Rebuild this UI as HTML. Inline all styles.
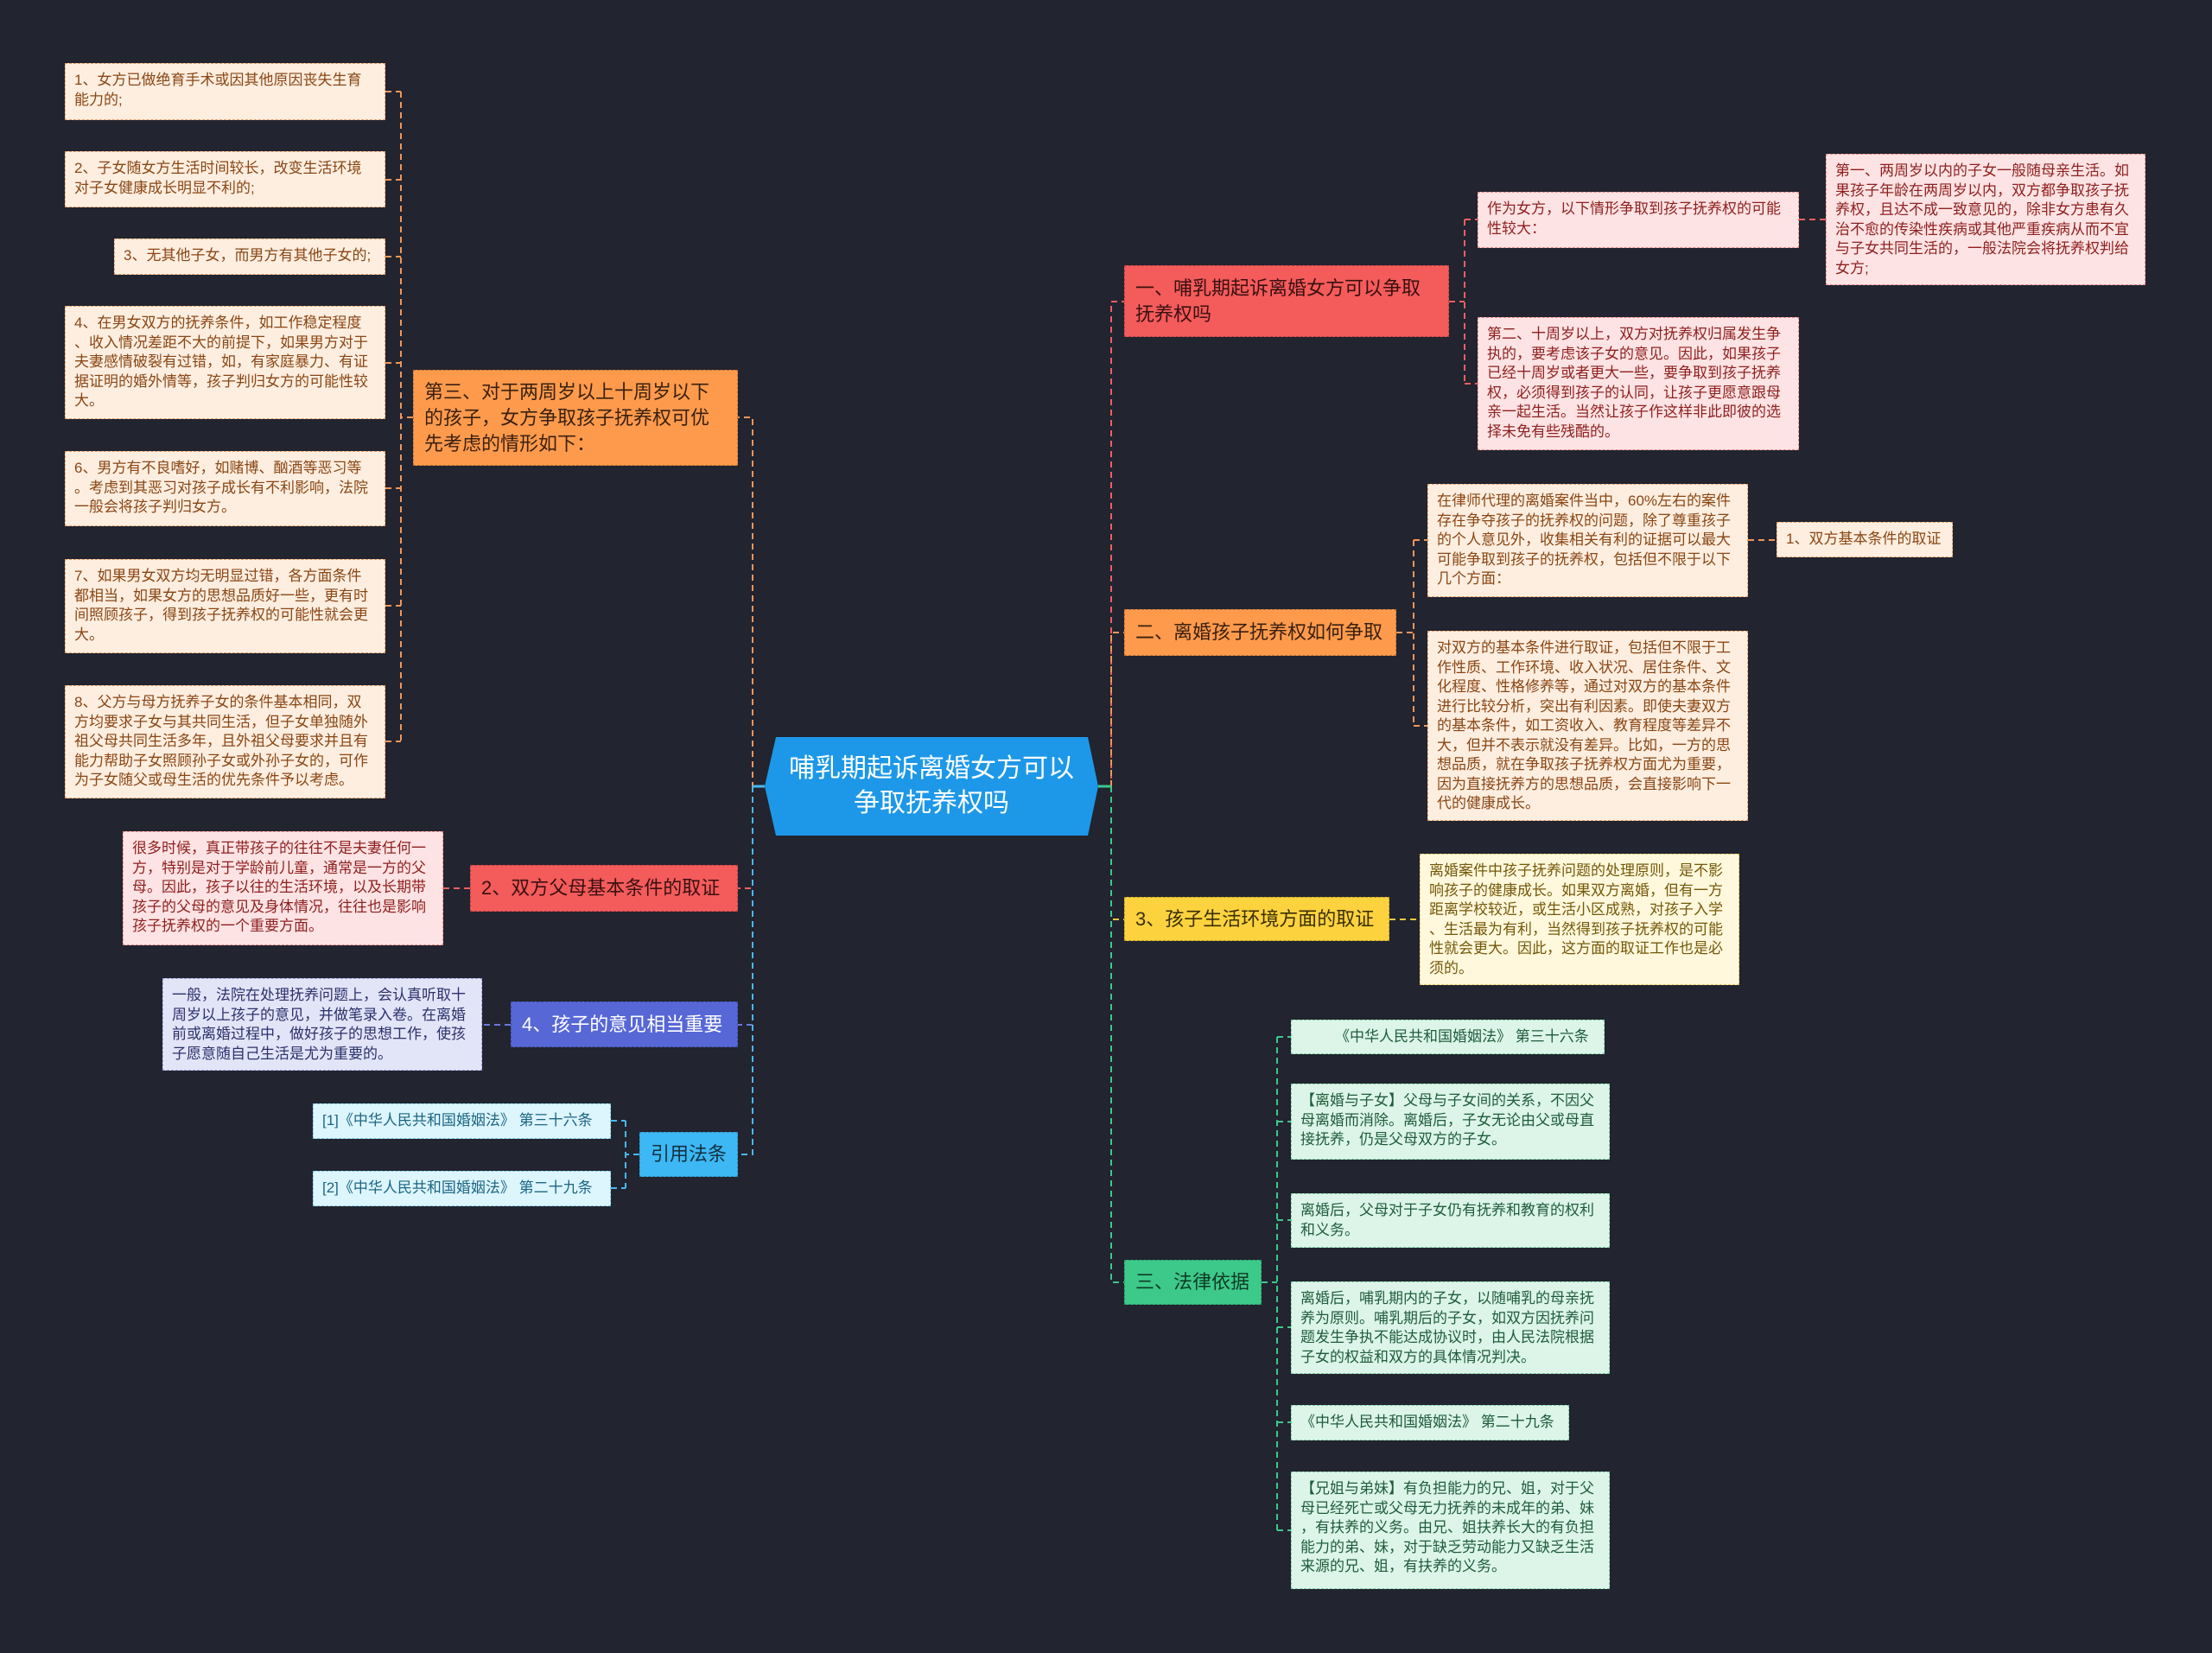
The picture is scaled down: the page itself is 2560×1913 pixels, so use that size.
<!DOCTYPE html>
<html><head><meta charset="utf-8">
<style>
body{margin:0;width:2560px;height:1913px;background:#22242f;position:relative;overflow:hidden;font-family:"Liberation Sans","Noto Sans CJK SC",sans-serif;}
.n{position:absolute;box-sizing:border-box;font-size:17px;line-height:22.5px;padding:8px 10px;border:1.5px dashed;line-break:anywhere;}
.o{background:#fdeee0;color:#8a4614;border-color:#e8a06a;}
.p{background:#fde3e3;color:#8e1f1f;border-color:#ee8a8a;}
.y{background:#fff8dc;color:#74580a;border-color:#e2c660;}
.g{background:#dcf5e8;color:#1f5c3b;border-color:#7cd0a4;}
.c{background:#ddf5fd;color:#1c6684;border-color:#7ccbe8;}
.l{background:#e2e4f8;color:#2b316a;border-color:#9aa2e0;}
.b{position:absolute;box-sizing:border-box;font-size:22px;line-height:30px;padding:0 12px;display:flex;align-items:center;border:1.5px dashed rgba(0,0,0,.25);}
</style></head><body>
<svg width="2560" height="1913" style="position:absolute;left:0;top:0" fill="none" stroke-width="2" stroke-dasharray="7,5">
<path d="M885 910 H871 V483 H854" stroke="#f0965a"/>
<path d="M871 910 V1028 H854" stroke="#f06060"/>
<path d="M871 910 V1186 H854" stroke="#6a78d8"/>
<path d="M871 910 V1336 H854" stroke="#4ab8ee"/>
<path d="M885 910 H871" stroke="#4ab8ee" stroke-dasharray="none" stroke-width="3"/>
<path d="M478 483 H464 M464 106 V858 M446 106 H464 M446 208 H464 M446 297 H464 M446 420 H464 M446 565 H464 M446 701 H464 M446 858 H464" stroke="#f0965a"/>
<path d="M544 1028 H513" stroke="#f06060"/>
<path d="M591 1186 H558" stroke="#6a78d8"/>
<path d="M740 1336 H724 M724 1297 V1375 M707 1297 H724 M707 1375 H724" stroke="#4ab8ee"/>
<path d="M1271 910 H1286 V349 H1301" stroke="#f06060"/>
<path d="M1286 910 V732 H1301" stroke="#f0965a"/>
<path d="M1286 910 V1064 H1301" stroke="#f0c840"/>
<path d="M1286 910 V1484 H1301" stroke="#3cc98a"/>
<path d="M1271 910 H1286" stroke="#3cc98a" stroke-dasharray="none" stroke-width="3"/>
<path d="M1677 349 H1695 M1695 254 V444 M1695 254 H1710 M1695 444 H1710 M2082 254 H2113" stroke="#f06060"/>
<path d="M1616 732 H1636 M1636 625 V840 M1636 625 H1652 M1636 840 H1652 M2023 625 H2056" stroke="#f0965a"/>
<path d="M1608 1064 H1643" stroke="#f0c840"/>
<path d="M1460 1484 H1478 M1478 1200 V1771 M1478 1200 H1494 M1478 1298 H1494 M1478 1412 H1494 M1478 1536 H1494 M1478 1646 H1494 M1478 1771 H1494" stroke="#3cc98a"/>
</svg>

<div style="position:absolute;left:885px;top:853px;width:386px;height:114px;background:#1d98e8;clip-path:polygon(13px 0,374px 0,386px 57px,374px 114px,13px 114px,0 57px);color:#fff;font-size:30px;line-height:40px;display:flex;align-items:center;justify-content:center;text-align:center;">哺乳期起诉离婚女方可以<br>争取抚养权吗</div>

<div class="n o" style="left:75px;top:73px;width:371px;height:66px">1、女方已做绝育手术或因其他原因丧失生育能力的;</div>
<div class="n o" style="left:75px;top:175px;width:371px;height:65px">2、子女随女方生活时间较长，改变生活环境对子女健康成长明显不利的;</div>
<div class="n o" style="left:132px;top:276px;width:314px;height:42px">3、无其他子女，而男方有其他子女的;</div>
<div class="n o" style="left:75px;top:354px;width:371px;height:131px">4、在男女双方的抚养条件，如工作稳定程度、收入情况差距不大的前提下，如果男方对于夫妻感情破裂有过错，如，有家庭暴力、有证据证明的婚外情等，孩子判归女方的可能性较大。</div>
<div class="n o" style="left:75px;top:522px;width:371px;height:87px">6、男方有不良嗜好，如赌博、酗酒等恶习等。考虑到其恶习对孩子成长有不利影响，法院一般会将孩子判归女方。</div>
<div class="n o" style="left:75px;top:647px;width:371px;height:109px">7、如果男女双方均无明显过错，各方面条件都相当，如果女方的思想品质好一些，更有时间照顾孩子，得到孩子抚养权的可能性就会更大。</div>
<div class="n o" style="left:75px;top:793px;width:371px;height:131px">8、父方与母方抚养子女的条件基本相同，双方均要求子女与其共同生活，但子女单独随外祖父母共同生活多年，且外祖父母要求并且有能力帮助子女照顾孙子女或外孙子女的，可作为子女随父或母生活的优先条件予以考虑。</div>
<div class="b" style="left:478px;top:428px;width:376px;height:111px;background:#fe9a4c;color:#3a2010;">第三、对于两周岁以上十周岁以下的孩子，女方争取孩子抚养权可优先考虑的情形如下：</div>

<div class="n p" style="left:142px;top:962px;width:371px;height:132px">很多时候，真正带孩子的往往不是夫妻任何一方，特别是对于学龄前儿童，通常是一方的父母。因此，孩子以往的生活环境，以及长期带孩子的父母的意见及身体情况，往往也是影响孩子抚养权的一个重要方面。</div>
<div class="b" style="left:544px;top:1001px;width:310px;height:54px;background:#f45b5b;color:#3a1010;">2、双方父母基本条件的取证</div>
<div class="n l" style="left:188px;top:1132px;width:370px;height:107px">一般，法院在处理抚养问题上，会认真听取十周岁以上孩子的意见，并做笔录入卷。在离婚前或离婚过程中，做好孩子的思想工作，使孩子愿意随自己生活是尤为重要的。</div>
<div class="b" style="left:591px;top:1159px;width:263px;height:53px;background:#5767d6;color:#fff;">4、孩子的意见相当重要</div>
<div class="n c" style="left:362px;top:1277px;width:345px;height:41px;padding-top:8px">[1]《中华人民共和国婚姻法》 第三十六条</div>
<div class="n c" style="left:362px;top:1355px;width:345px;height:41px;padding-top:8px">[2]《中华人民共和国婚姻法》 第二十九条</div>
<div class="b" style="left:740px;top:1310px;width:114px;height:52px;background:#3db8f5;color:#12303f;">引用法条</div>

<div class="b" style="left:1301px;top:307px;width:376px;height:83px;background:#f45b5b;color:#3a1010;">一、哺乳期起诉离婚女方可以争取抚养权吗</div>
<div class="n p" style="left:1710px;top:222px;width:372px;height:65px">作为女方，以下情形争取到孩子抚养权的可能性较大：</div>
<div class="n p" style="left:1710px;top:367px;width:372px;height:154px">第二、十周岁以上，双方对抚养权归属发生争执的，要考虑该子女的意见。因此，如果孩子已经十周岁或者更大一些，要争取到孩子抚养权，必须得到孩子的认同，让孩子更愿意跟母亲一起生活。当然让孩子作这样非此即彼的选择未免有些残酷的。</div>
<div class="n p" style="left:2113px;top:178px;width:370px;height:152px">第一、两周岁以内的子女一般随母亲生活。如果孩子年龄在两周岁以内，双方都争取孩子抚养权，且达不成一致意见的，除非女方患有久治不愈的传染性疾病或其他严重疾病从而不宜与子女共同生活的，一般法院会将抚养权判给女方;</div>

<div class="b" style="left:1301px;top:705px;width:315px;height:54px;background:#fe9a4c;color:#3a2010;">二、离婚孩子抚养权如何争取</div>
<div class="n o" style="left:1652px;top:560px;width:371px;height:131px">在律师代理的离婚案件当中，60%左右的案件存在争夺孩子的抚养权的问题，除了尊重孩子的个人意见外，收集相关有利的证据可以最大可能争取到孩子的抚养权，包括但不限于以下几个方面：</div>
<div class="n o" style="left:2056px;top:604px;width:204px;height:41px">1、双方基本条件的取证</div>
<div class="n o" style="left:1652px;top:730px;width:371px;height:220px">对双方的基本条件进行取证，包括但不限于工作性质、工作环境、收入状况、居住条件、文化程度、性格修养等，通过对双方的基本条件进行比较分析，突出有利因素。即使夫妻双方的基本条件，如工资收入、教育程度等差异不大，但并不表示就没有差异。比如，一方的思想品质，就在争取孩子抚养权方面尤为重要，因为直接抚养方的思想品质，会直接影响下一代的健康成长。</div>

<div class="b" style="left:1301px;top:1038px;width:307px;height:51px;background:#fcd23e;color:#3a2e05;">3、孩子生活环境方面的取证</div>
<div class="n y" style="left:1643px;top:988px;width:370px;height:152px">离婚案件中孩子抚养问题的处理原则，是不影响孩子的健康成长。如果双方离婚，但有一方距离学校较近，或生活小区成熟，对孩子入学、生活最为有利，当然得到孩子抚养权的可能性就会更大。因此，这方面的取证工作也是必须的。</div>

<div class="b" style="left:1301px;top:1458px;width:159px;height:52px;background:#3cc98a;color:#0f3a25;">三、法律依据</div>
<div class="n g" style="left:1494px;top:1180px;width:363px;height:40px;padding-left:50px">《中华人民共和国婚姻法》 第三十六条</div>
<div class="n g" style="left:1494px;top:1254px;width:369px;height:88px">【离婚与子女】父母与子女间的关系，不因父母离婚而消除。离婚后，子女无论由父或母直接抚养，仍是父母双方的子女。</div>
<div class="n g" style="left:1494px;top:1381px;width:369px;height:63px">离婚后，父母对于子女仍有抚养和教育的权利和义务。</div>
<div class="n g" style="left:1494px;top:1483px;width:369px;height:107px">离婚后，哺乳期内的子女，以随哺乳的母亲抚养为原则。哺乳期后的子女，如双方因抚养问题发生争执不能达成协议时，由人民法院根据子女的权益和双方的具体情况判决。</div>
<div class="n g" style="left:1494px;top:1626px;width:322px;height:41px">《中华人民共和国婚姻法》 第二十九条</div>
<div class="n g" style="left:1494px;top:1703px;width:369px;height:136px">【兄姐与弟妹】有负担能力的兄、姐，对于父母已经死亡或父母无力抚养的未成年的弟、妹，有扶养的义务。由兄、姐扶养长大的有负担能力的弟、妹，对于缺乏劳动能力又缺乏生活来源的兄、姐，有扶养的义务。</div>
</body></html>
